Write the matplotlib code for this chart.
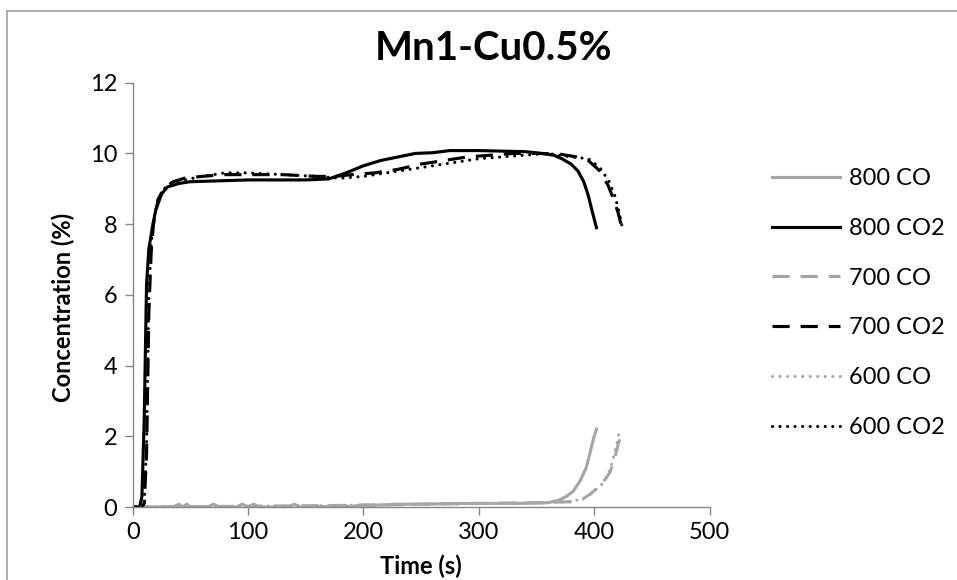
import matplotlib
matplotlib.use("Agg")
import matplotlib.pyplot as plt
from matplotlib.lines import Line2D

plt.rcParams['font.family'] = ['Lato', 'DejaVu Sans']

# ---- data ----
t_800_co = [0, 35, 40, 43, 47, 50, 65, 70, 75, 90, 95, 100, 105, 110, 135, 140, 145,
            190, 200, 210, 230, 250, 280, 300, 330, 360, 370, 376, 382, 388, 393, 397, 400, 402]
y_800_co = [0, 0, 0.08, 0, 0.08, 0, 0, 0.08, 0, 0, 0.08, 0, 0.08, 0, 0, 0.08, 0,
            0.02, 0.06, 0.05, 0.08, 0.08, 0.1, 0.1, 0.1, 0.12, 0.2, 0.3, 0.45, 0.75, 1.1, 1.6, 2.0, 2.2]

t_800_co2 = [0, 6, 8, 10, 12, 14, 17, 20, 25, 30, 40, 50, 70, 100, 150, 170, 185, 200, 215,
             230, 245, 260, 275, 300, 340, 355, 365, 372, 380, 386, 391, 395, 398, 402]
y_800_co2 = [0, 0, 0.3, 2.5, 6.3, 7.3, 7.9, 8.4, 8.85, 9.05, 9.15, 9.2, 9.22, 9.25, 9.25, 9.28, 9.45,
             9.65, 9.8, 9.9, 10.0, 10.02, 10.08, 10.08, 10.05, 10.0, 9.95, 9.85, 9.7, 9.5, 9.2, 8.8, 8.4, 7.9]

t_700_co = [0, 100, 200, 250, 300, 350, 380, 390, 398, 405, 410, 414, 418, 421, 424]
y_700_co = [0, 0.02, 0.05, 0.08, 0.1, 0.12, 0.15, 0.22, 0.4, 0.6, 0.8, 1.0, 1.4, 1.8, 2.05]

t_700_co2 = [0, 8, 10, 12, 14, 16, 18, 22, 27, 35, 45, 60, 80, 100, 130, 160, 175, 190, 210,
             230, 250, 270, 290, 310, 330, 350, 370, 385, 395, 405, 412, 417, 421, 424]
y_700_co2 = [0, 0, 0.1, 1.5, 5.5, 7.2, 8.0, 8.7, 9.0, 9.2, 9.3, 9.35, 9.4, 9.4, 9.4, 9.35, 9.35,
             9.4, 9.45, 9.55, 9.7, 9.8, 9.9, 9.95, 10.0, 10.0, 9.98, 9.9, 9.8, 9.5, 9.1, 8.7, 8.3, 7.9]

t_600_co = [0, 100, 200, 250, 300, 350, 380, 392, 400, 407, 412, 416, 419, 422]
y_600_co = [0, 0.02, 0.05, 0.08, 0.1, 0.12, 0.15, 0.25, 0.45, 0.65, 0.9, 1.3, 1.7, 2.15]

t_600_co2 = [0, 8, 10, 12, 14, 16, 18, 22, 27, 35, 45, 60, 80, 100, 130, 160, 180, 200, 220,
             240, 260, 280, 300, 320, 340, 360, 380, 395, 405, 413, 418, 422, 425]
y_600_co2 = [0, 0, 0.1, 1.8, 6.0, 7.4, 8.1, 8.7, 9.0, 9.15, 9.25, 9.35, 9.45, 9.45, 9.4, 9.35,
             9.3, 9.35, 9.45, 9.55, 9.65, 9.75, 9.85, 9.9, 9.95, 10.0, 9.9, 9.85, 9.6, 9.2, 8.8, 8.3, 7.8]

x_ticks = [0, 100, 200, 300, 400, 500]
y_ticks = [0, 2, 4, 6, 8, 10, 12]

title = "Mn1-Cu0.5%"
xlabel = "Time (s)"
ylabel = "Concentration (%)"

# ---- styles ----
GRAY = '#A6A6A6'
BLACK = '#000000'
AX = '#868686'
LW = 2.25
FS = 17
dash = dict(dashes=(5.5, 3.5), dash_capstyle='butt')
dot = dict(dashes=(0.01, 2.4), dash_capstyle='round')

fig = plt.figure(figsize=(9.57, 5.80), dpi=100)
ax = fig.add_axes([132.7/957, 73/580, (709.5-132.7)/957, (507-82.7)/580])

ax.plot(t_800_co, y_800_co, color=GRAY, lw=LW, label='800 CO', solid_joinstyle='round')
ax.plot(t_800_co2, y_800_co2, color=BLACK, lw=LW, label='800 CO2', solid_joinstyle='round')
ax.plot(t_700_co, y_700_co, color=GRAY, lw=LW, label='700 CO', **dash)
ax.plot(t_700_co2, y_700_co2, color=BLACK, lw=LW, label='700 CO2', **dash)
ax.plot(t_600_co, y_600_co, color=GRAY, lw=LW, label='600 CO', **dot)
ax.plot(t_600_co2, y_600_co2, color=BLACK, lw=LW, label='600 CO2', **dot)

ax.set_xlim(0, 500)
ax.set_ylim(0, 12)
ax.set_xticks(x_ticks)
ax.set_yticks(y_ticks)
for s in ['top', 'right']:
    ax.spines[s].set_visible(False)
for s in ['left', 'bottom']:
    ax.spines[s].set_color(AX)
    ax.spines[s].set_linewidth(1.0)
ax.tick_params(axis='both', direction='out', length=6, width=1.0, color=AX,
               labelsize=FS, pad=5, labelcolor='black')

ax.set_ylabel(ylabel, fontsize=FS, fontweight='bold')
ax.yaxis.set_label_coords(-58/576.8, 0.47)
ax.set_xlabel(xlabel, fontsize=FS, fontweight='bold')
ax.xaxis.set_label_coords(0.5, -48/424.3)

fig.text(0.516, 1 - 60/580, title, ha='center', va='baseline', fontsize=29, fontweight='bold')

leg = fig.legend(loc='upper left', bbox_to_anchor=(772/957, 1 - 168/580),
                 frameon=False, fontsize=FS, handlelength=2.88, handletextpad=0.38,
                 labelspacing=1.22, borderpad=0, borderaxespad=0)

# chart-area border (partially visible)
fig.add_artist(Line2D([7/957, 7/957], [0, 1 - 10.5/580], transform=fig.transFigure,
                      color='#A0A0A0', lw=1.2))
fig.add_artist(Line2D([7/957, 1], [1 - 10.5/580, 1 - 10.5/580], transform=fig.transFigure,
                      color='#A0A0A0', lw=1.2))

fig.savefig('out.png', dpi=100)
